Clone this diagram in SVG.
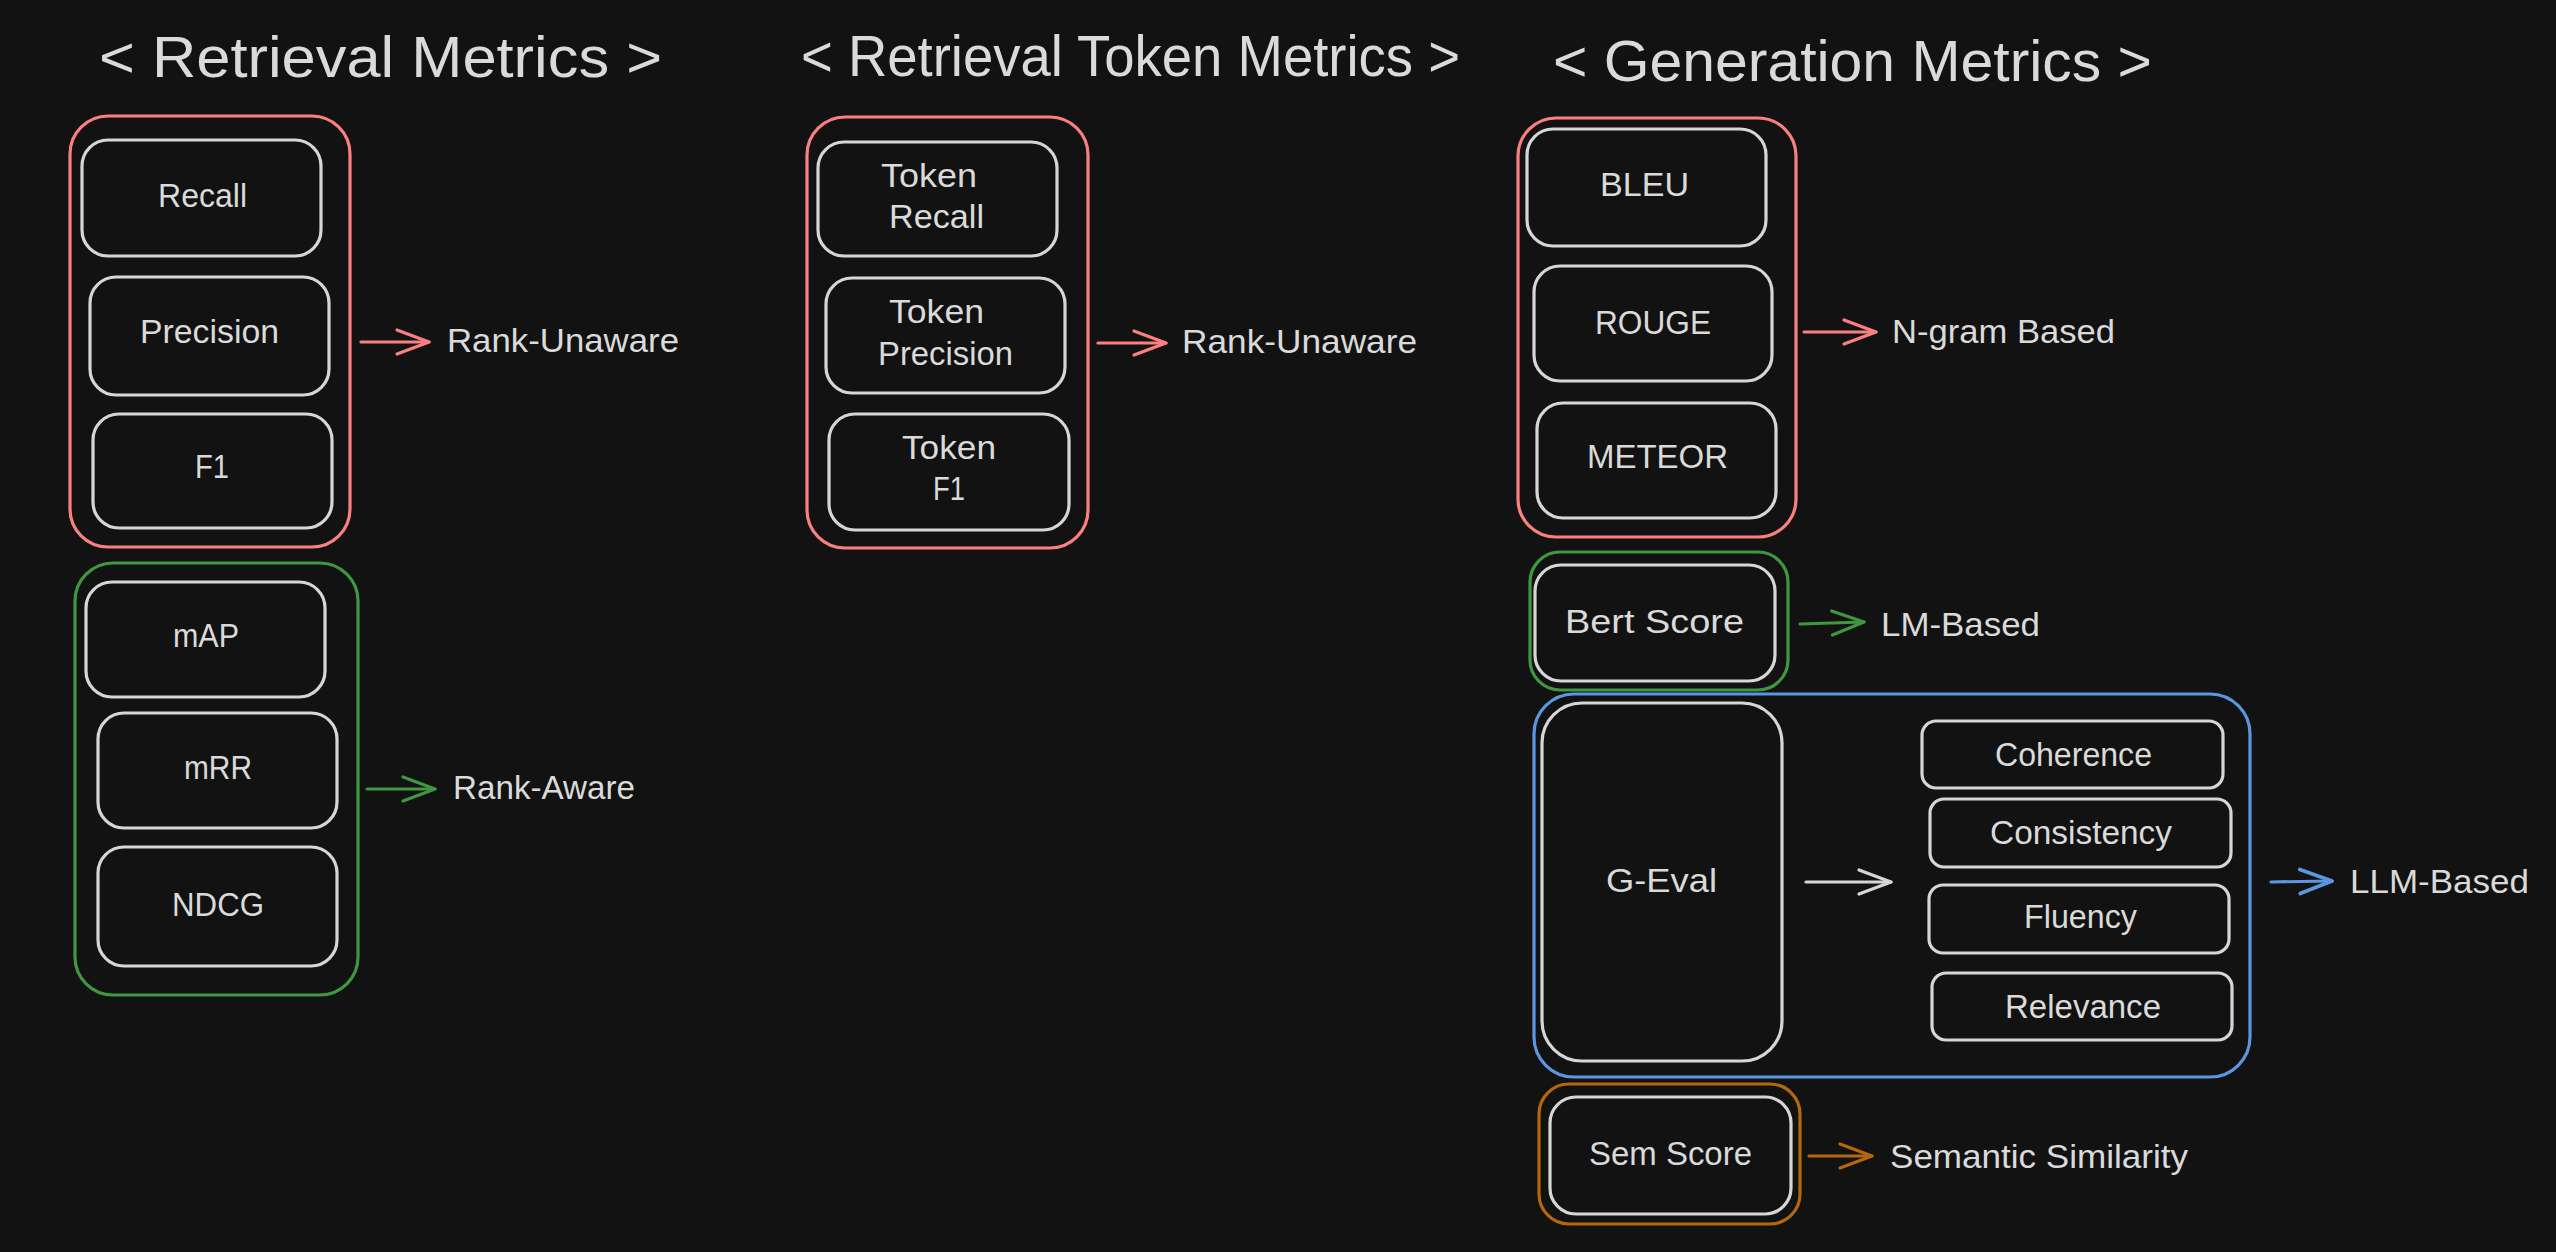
<svg xmlns="http://www.w3.org/2000/svg" width="2556" height="1252" viewBox="0 0 2556 1252">
<defs>
<style>
.bx{fill:none;stroke-width:3.2;stroke-linejoin:round}
.w{stroke:#d6d6d6}
.r{stroke:#fa8080}
.g{stroke:#3f983f}
.b{stroke:#5b96df}
.o{stroke:#b5670f}
.t{fill:#dadada;font-family:"Liberation Sans",Arial,sans-serif;font-size:33px}
.h{fill:#dadada;font-family:"Liberation Sans",Arial,sans-serif;font-size:58px}
.ln{fill:none;stroke-width:3.2;stroke-linecap:round}
</style>
<marker id="aR" markerUnits="userSpaceOnUse" markerWidth="44" markerHeight="32" viewBox="0 0 44 32" refX="38" refY="16" orient="auto"><path d="M6,4 L38,16 L6,28" fill="none" stroke="#fa8080" stroke-width="3.2" stroke-linecap="round" stroke-linejoin="round"/></marker>
<marker id="aG" markerUnits="userSpaceOnUse" markerWidth="44" markerHeight="32" viewBox="0 0 44 32" refX="38" refY="16" orient="auto"><path d="M6,4 L38,16 L6,28" fill="none" stroke="#3f983f" stroke-width="3.2" stroke-linecap="round" stroke-linejoin="round"/></marker>
<marker id="aB" markerUnits="userSpaceOnUse" markerWidth="44" markerHeight="32" viewBox="0 0 44 32" refX="38" refY="16" orient="auto"><path d="M6,4 L38,16 L6,28" fill="none" stroke="#5b96df" stroke-width="3.8" stroke-linecap="round" stroke-linejoin="round"/></marker>
<marker id="aO" markerUnits="userSpaceOnUse" markerWidth="44" markerHeight="32" viewBox="0 0 44 32" refX="38" refY="16" orient="auto"><path d="M6,4 L38,16 L6,28" fill="none" stroke="#b5670f" stroke-width="3.2" stroke-linecap="round" stroke-linejoin="round"/></marker>
<marker id="aW" markerUnits="userSpaceOnUse" markerWidth="44" markerHeight="32" viewBox="0 0 44 32" refX="38" refY="16" orient="auto"><path d="M6,4 L38,16 L6,28" fill="none" stroke="#d6d6d6" stroke-width="3.2" stroke-linecap="round" stroke-linejoin="round"/></marker>
</defs>
<rect x="0" y="0" width="2556" height="1252" fill="#121212"/>

<g id="titles">
<text class="h" x="99" y="77" textLength="563" lengthAdjust="spacingAndGlyphs">&lt; Retrieval Metrics &gt;</text>
<text class="h" x="801" y="76" textLength="659" lengthAdjust="spacingAndGlyphs">&lt; Retrieval Token Metrics &gt;</text>
<text class="h" x="1553" y="81" textLength="599" lengthAdjust="spacingAndGlyphs">&lt; Generation Metrics &gt;</text>
</g>

<!-- Retrieval Metrics -->
<g id="rank-unaware-group"><rect class="bx r" x="70" y="116" width="280" height="431" rx="38"/></g>
<g id="recall"><rect class="bx w" x="82" y="140" width="239" height="116" rx="26"/><text class="t" x="158" y="207" textLength="89" lengthAdjust="spacingAndGlyphs">Recall</text></g>
<g id="precision"><rect class="bx w" x="90" y="277" width="239" height="118" rx="26"/><text class="t" x="140" y="343" textLength="139" lengthAdjust="spacingAndGlyphs">Precision</text></g>
<g id="f1"><rect class="bx w" x="93" y="414" width="239" height="114" rx="26"/><text class="t" x="195" y="478" textLength="34" lengthAdjust="spacingAndGlyphs">F1</text></g>
<g id="rank-unaware-label"><text class="t" x="447" y="352" textLength="232" lengthAdjust="spacingAndGlyphs">Rank-Unaware</text></g>

<g id="rank-aware-group"><rect class="bx g" x="75" y="563" width="283" height="432" rx="38"/></g>
<g id="map"><rect class="bx w" x="86" y="582" width="239" height="115" rx="26"/><text class="t" x="173" y="647" textLength="66" lengthAdjust="spacingAndGlyphs">mAP</text></g>
<g id="mrr"><rect class="bx w" x="98" y="713" width="239" height="115" rx="26"/><text class="t" x="184" y="779" textLength="68" lengthAdjust="spacingAndGlyphs">mRR</text></g>
<g id="ndcg"><rect class="bx w" x="98" y="847" width="239" height="119" rx="26"/><text class="t" x="172" y="916" textLength="92" lengthAdjust="spacingAndGlyphs">NDCG</text></g>
<g id="rank-aware-label"><text class="t" x="453" y="799" textLength="182" lengthAdjust="spacingAndGlyphs">Rank-Aware</text></g>

<!-- Retrieval Token Metrics -->
<g id="token-group"><rect class="bx r" x="807" y="117" width="281" height="431" rx="38"/></g>
<g id="token-recall"><rect class="bx w" x="818" y="142" width="239" height="114" rx="26"/><text class="t" x="881" y="187" textLength="96" lengthAdjust="spacingAndGlyphs">Token</text><text class="t" x="889" y="228" textLength="95" lengthAdjust="spacingAndGlyphs">Recall</text></g>
<g id="token-precision"><rect class="bx w" x="826" y="278" width="239" height="115" rx="26"/><text class="t" x="889" y="323" textLength="95" lengthAdjust="spacingAndGlyphs">Token</text><text class="t" x="878" y="365" textLength="135" lengthAdjust="spacingAndGlyphs">Precision</text></g>
<g id="token-f1"><rect class="bx w" x="829" y="414" width="240" height="116" rx="26"/><text class="t" x="902" y="459" textLength="94" lengthAdjust="spacingAndGlyphs">Token</text><text class="t" x="933" y="500" textLength="32" lengthAdjust="spacingAndGlyphs">F1</text></g>
<g id="token-rank-unaware-label"><text class="t" x="1182" y="353" textLength="235" lengthAdjust="spacingAndGlyphs">Rank-Unaware</text></g>

<!-- Generation Metrics -->
<g id="ngram-group"><rect class="bx r" x="1518" y="118" width="278" height="419" rx="38"/></g>
<g id="bleu"><rect class="bx w" x="1527" y="129" width="239" height="117" rx="26"/><text class="t" x="1600" y="196" textLength="89" lengthAdjust="spacingAndGlyphs">BLEU</text></g>
<g id="rouge"><rect class="bx w" x="1534" y="266" width="238" height="115" rx="26"/><text class="t" x="1595" y="334" textLength="116" lengthAdjust="spacingAndGlyphs">ROUGE</text></g>
<g id="meteor"><rect class="bx w" x="1537" y="403" width="239" height="115" rx="26"/><text class="t" x="1587" y="468" textLength="141" lengthAdjust="spacingAndGlyphs">METEOR</text></g>
<g id="ngram-label"><text class="t" x="1892" y="343" textLength="223" lengthAdjust="spacingAndGlyphs">N-gram Based</text></g>

<g id="lm-group"><rect class="bx g" x="1530" y="552" width="258" height="138" rx="30"/></g>
<g id="bert-score"><rect class="bx w" x="1535" y="565" width="240" height="116" rx="26"/><text class="t" x="1565" y="633" textLength="179" lengthAdjust="spacingAndGlyphs">Bert Score</text></g>
<g id="lm-label"><text class="t" x="1881" y="636" textLength="159" lengthAdjust="spacingAndGlyphs">LM-Based</text></g>

<g id="llm-group"><rect class="bx b" x="1534" y="694" width="716" height="383" rx="40"/></g>
<g id="g-eval"><rect class="bx w" x="1542" y="703" width="240" height="358" rx="40"/><text class="t" x="1606" y="892" textLength="111" lengthAdjust="spacingAndGlyphs">G-Eval</text></g>
<g id="coherence"><rect class="bx w" x="1922" y="721" width="301" height="67" rx="14"/><text class="t" x="1995" y="766" textLength="157" lengthAdjust="spacingAndGlyphs">Coherence</text></g>
<g id="consistency"><rect class="bx w" x="1930" y="799" width="301" height="68" rx="14"/><text class="t" x="1990" y="844" textLength="182" lengthAdjust="spacingAndGlyphs">Consistency</text></g>
<g id="fluency"><rect class="bx w" x="1929" y="885" width="300" height="68" rx="14"/><text class="t" x="2024" y="928" textLength="113" lengthAdjust="spacingAndGlyphs">Fluency</text></g>
<g id="relevance"><rect class="bx w" x="1932" y="973" width="300" height="67" rx="14"/><text class="t" x="2005" y="1018" textLength="156" lengthAdjust="spacingAndGlyphs">Relevance</text></g>
<g id="llm-label"><text class="t" x="2350" y="893" textLength="179" lengthAdjust="spacingAndGlyphs">LLM-Based</text></g>

<g id="semantic-group"><rect class="bx o" x="1539" y="1084" width="261" height="140" rx="30"/></g>
<g id="sem-score"><rect class="bx w" x="1550" y="1097" width="241" height="117" rx="26"/><text class="t" x="1589" y="1165" textLength="163" lengthAdjust="spacingAndGlyphs">Sem Score</text></g>
<g id="semantic-label"><text class="t" x="1890" y="1168" textLength="298" lengthAdjust="spacingAndGlyphs">Semantic Similarity</text></g>

<g id="connectors">
<path class="ln r" d="M361,342 L429,342" marker-end="url(#aR)"/>
<path class="ln g" d="M367,789 L435,789" marker-end="url(#aG)"/>
<path class="ln r" d="M1098,343 L1166,343" marker-end="url(#aR)"/>
<path class="ln r" d="M1804,332 L1876,332" marker-end="url(#aR)"/>
<path class="ln g" d="M1800,624 L1864,622" marker-end="url(#aG)"/>
<path class="ln w" d="M1806,882 L1891,882" marker-end="url(#aW)"/>
<path class="ln b" d="M2271,882 L2332,881" stroke-width="3.8" marker-end="url(#aB)"/>
<path class="ln o" d="M1809,1156 L1872,1156" marker-end="url(#aO)"/>
</g>
</svg>
